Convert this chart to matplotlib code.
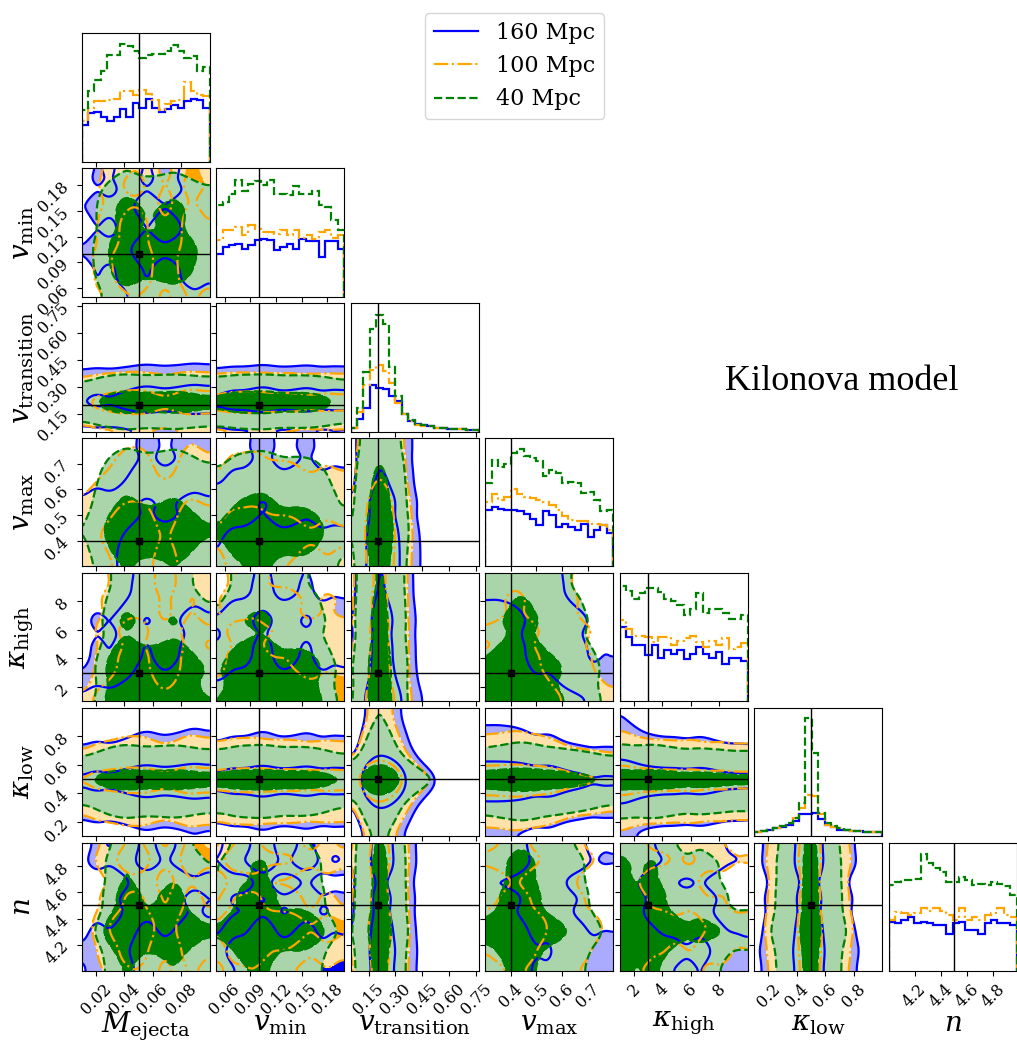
import numpy as np
import matplotlib.pyplot as plt
import matplotlib.colors as mcolors
from matplotlib.lines import Line2D

plt.rcParams["font.family"] = ["DejaVu Serif"]
plt.rcParams["mathtext.fontset"] = "dejavuserif"

labels = [r"$M_{\rm ejecta}$", r"$v_{\rm min}$", r"$v_{\rm transition}$", r"$v_{\rm max}$",
          r"$\kappa_{\rm high}$", r"$\kappa_{\rm low}$", r"$n$"]
ranges = [(0.01, 0.1), (0.05, 0.2), (0.05, 0.765), (0.3, 0.8), (1.0, 10.0), (0.1, 1.0), (4.0, 4.98)]
truths = [0.05, 0.1, 0.2, 0.4, 3.0, 0.5, 4.5]
ticks = [[0.02, 0.04, 0.06, 0.08], [0.06, 0.09, 0.12, 0.15, 0.18], [0.15, 0.30, 0.45, 0.60, 0.75],
         [0.4, 0.5, 0.6, 0.7], [2, 4, 6, 8], [0.2, 0.4, 0.6, 0.8], [4.2, 4.4, 4.6, 4.8]]
tick_labels = [["0.02", "0.04", "0.06", "0.08"], ["0.06", "0.09", "0.12", "0.15", "0.18"],
               ["0.15", "0.30", "0.45", "0.60", "0.75"], ["0.4", "0.5", "0.6", "0.7"],
               ["2", "4", "6", "8"], ["0.2", "0.4", "0.6", "0.8"], ["4.2", "4.4", "4.6", "4.8"]]

series_names = ["160 Mpc", "100 Mpc", "40 Mpc"]
series_colors = ["blue", "orange", "green"]
series_styles = ["solid", "dashdot", "dashed"]

# marginal posteriors, 20 bins over each parameter range (relative heights)
m_ejecta_160 = [0.29, 0.38, 0.39, 0.35, 0.32, 0.35, 0.41, 0.35, 0.46, 0.42, 0.49, 0.42, 0.39, 0.41, 0.44, 0.42, 0.47, 0.49, 0.48, 0.42]
m_ejecta_100 = [0.32, 0.42, 0.47, 0.47, 0.48, 0.49, 0.55, 0.55, 0.52, 0.56, 0.53, 0.48, 0.40, 0.45, 0.47, 0.48, 0.62, 0.55, 0.52, 0.51]
m_ejecta_40 = [0.40, 0.55, 0.64, 0.71, 0.83, 0.83, 0.92, 0.90, 0.86, 0.81, 0.83, 0.84, 0.84, 0.86, 0.91, 0.86, 0.81, 0.82, 0.71, 0.74]

v_min_160 = [0.33, 0.39, 0.40, 0.41, 0.37, 0.40, 0.44, 0.45, 0.44, 0.36, 0.39, 0.41, 0.37, 0.45, 0.43, 0.43, 0.31, 0.43, 0.43, 0.37]
v_min_100 = [0.44, 0.52, 0.52, 0.54, 0.48, 0.56, 0.53, 0.50, 0.50, 0.49, 0.52, 0.48, 0.52, 0.46, 0.48, 0.45, 0.50, 0.52, 0.46, 0.48]
v_min_40 = [0.71, 0.74, 0.80, 0.91, 0.82, 0.88, 0.90, 0.87, 0.91, 0.80, 0.80, 0.79, 0.86, 0.80, 0.80, 0.82, 0.71, 0.70, 0.60, 0.52]

v_trans_160 = [0.03, 0.10, 0.18, 0.36, 0.34, 0.33, 0.28, 0.24, 0.14, 0.08, 0.06, 0.05, 0.04, 0.03, 0.03, 0.02, 0.02, 0.02, 0.01, 0.01]
v_trans_100 = [0.03, 0.15, 0.36, 0.48, 0.52, 0.47, 0.38, 0.22, 0.14, 0.08, 0.05, 0.04, 0.04, 0.03, 0.03, 0.02, 0.02, 0.02, 0.01, 0.01]
v_trans_40 = [0.03, 0.18, 0.46, 0.80, 0.91, 0.84, 0.50, 0.28, 0.14, 0.09, 0.06, 0.05, 0.04, 0.03, 0.03, 0.02, 0.02, 0.02, 0.01, 0.01]

v_max_160 = [0.44, 0.46, 0.45, 0.44, 0.44, 0.43, 0.41, 0.37, 0.32, 0.43, 0.40, 0.31, 0.33, 0.31, 0.28, 0.33, 0.23, 0.28, 0.32, 0.26]
v_max_100 = [0.50, 0.56, 0.52, 0.54, 0.60, 0.56, 0.54, 0.53, 0.52, 0.50, 0.48, 0.44, 0.39, 0.36, 0.35, 0.35, 0.33, 0.33, 0.32, 0.28]
v_max_40 = [0.65, 0.83, 0.77, 0.80, 0.88, 0.91, 0.86, 0.84, 0.82, 0.70, 0.75, 0.73, 0.65, 0.66, 0.65, 0.57, 0.58, 0.52, 0.43, 0.44]

k_high_160 = [0.58, 0.50, 0.44, 0.44, 0.36, 0.44, 0.34, 0.40, 0.37, 0.40, 0.33, 0.37, 0.42, 0.37, 0.34, 0.38, 0.29, 0.34, 0.34, 0.31]
k_high_100 = [0.63, 0.56, 0.51, 0.51, 0.50, 0.46, 0.50, 0.50, 0.44, 0.47, 0.49, 0.51, 0.46, 0.42, 0.47, 0.44, 0.49, 0.41, 0.42, 0.45]
k_high_40 = [0.90, 0.86, 0.80, 0.84, 0.88, 0.88, 0.85, 0.80, 0.78, 0.75, 0.67, 0.72, 0.84, 0.69, 0.72, 0.72, 0.69, 0.64, 0.64, 0.67]

k_low_160 = [0.03, 0.04, 0.05, 0.06, 0.07, 0.09, 0.12, 0.17, 0.17, 0.18, 0.13, 0.09, 0.07, 0.05, 0.05, 0.04, 0.04, 0.03, 0.03, 0.03]
k_low_100 = [0.03, 0.04, 0.05, 0.06, 0.08, 0.10, 0.14, 0.22, 0.32, 0.31, 0.17, 0.09, 0.07, 0.06, 0.05, 0.04, 0.04, 0.03, 0.03, 0.03]
k_low_40 = [0.03, 0.04, 0.05, 0.06, 0.08, 0.10, 0.14, 0.26, 0.92, 0.65, 0.18, 0.10, 0.08, 0.06, 0.05, 0.04, 0.04, 0.03, 0.03, 0.03]

n_160 = [0.38, 0.37, 0.40, 0.42, 0.37, 0.38, 0.37, 0.36, 0.36, 0.29, 0.37, 0.38, 0.32, 0.32, 0.29, 0.37, 0.40, 0.37, 0.37, 0.36]
n_100 = [0.40, 0.46, 0.45, 0.44, 0.45, 0.49, 0.47, 0.49, 0.47, 0.44, 0.40, 0.49, 0.40, 0.42, 0.40, 0.44, 0.45, 0.49, 0.44, 0.42]
n_40 = [0.67, 0.69, 0.71, 0.71, 0.72, 0.91, 0.84, 0.80, 0.77, 0.69, 0.69, 0.73, 0.71, 0.67, 0.68, 0.67, 0.69, 0.68, 0.66, 0.59]

hists = [
    [m_ejecta_160, v_min_160, v_trans_160, v_max_160, k_high_160, k_low_160, n_160],
    [m_ejecta_100, v_min_100, v_trans_100, v_max_100, k_high_100, k_low_100, n_100],
    [m_ejecta_40, v_min_40, v_trans_40, v_max_40, k_high_40, k_low_40, n_40],
]

FINE = 4          # sub-cells per histogram bin
SMOOTH = 1.3      # gaussian smoothing, in bins
MASS = (1 - np.exp(-2.0), 1 - np.exp(-0.5))   # 2-sigma / 1-sigma regions


def smooth(p, sigma):
    r = int(np.ceil(3 * sigma))
    k = np.exp(-0.5 * (np.arange(-r, r + 1) / sigma) ** 2)
    k /= k.sum()
    return np.convolve(np.pad(p, r, mode="reflect"), k, mode="valid")


def profile(h):
    return smooth(np.repeat(np.asarray(h, float), FINE), SMOOTH * FINE)


def thresholds(D):
    flat = np.sort(D.ravel())[::-1]
    cum = np.cumsum(flat) / flat.sum()
    return [flat[min(np.searchsorted(cum, m), flat.size - 1)] for m in MASS]


def lighten(c, f=1 / 3):
    rgb = np.array(mcolors.to_rgb(c))
    return tuple(1 - f * (1 - rgb))


ndim = len(labels)
fig, axes = plt.subplots(ndim, ndim, figsize=(10.17, 10.44), dpi=100)
fig.subplots_adjust(left=0.0803, right=0.9997, bottom=0.0699, top=0.9681, wspace=0.05, hspace=0.05)

profiles = [[profile(h) for h in hs] for hs in hists]

for i in range(ndim):
    for j in range(ndim):
        ax = axes[i, j]
        if j > i:
            ax.set_axis_off()
            continue
        xlo, xhi = ranges[j]
        if i == j:
            edges = np.linspace(xlo, xhi, len(hists[0][i]) + 1)
            for s in range(3):
                ax.stairs(hists[s][i], edges, baseline=0, color=series_colors[s],
                          linestyle=series_styles[s], lw=1.6)
            ax.set_ylim(0, 1)
            ax.set_yticks([])
            ax.axvline(truths[i], color="k", lw=1)
        else:
            X = np.linspace(xlo, xhi, len(profiles[0][j]))
            Y = np.linspace(ranges[i][0], ranges[i][1], len(profiles[0][i]))
            for s in range(3):
                D = np.outer(profiles[s][i], profiles[s][j])
                lo, hi = thresholds(D)
                c = series_colors[s]
                ax.contourf(X, Y, D, levels=[lo, hi, D.max() * 1.001], colors=[lighten(c), c])
                ax.contour(X, Y, D, levels=[lo, hi], colors=c, linestyles=series_styles[s],
                           linewidths=1.6)
            ax.axvline(truths[j], color="k", lw=1)
            ax.axhline(truths[i], color="k", lw=1)
            ax.plot(truths[j], truths[i], "s", color="k", ms=5)
            ax.set_ylim(ranges[i])
            ax.set_yticks(ticks[i])
            if j == 0:
                ax.set_yticklabels(tick_labels[i], rotation=45, fontsize=11.5)
                ax.set_ylabel(labels[i], fontsize=20)
                ax.yaxis.set_label_coords(-0.36, 0.5)
            else:
                ax.set_yticklabels([])
        ax.set_xlim(xlo, xhi)
        ax.set_xticks(ticks[j])
        if i == ndim - 1:
            ax.set_xticklabels(tick_labels[j], rotation=45, fontsize=11.5)
            ax.set_xlabel(labels[j], fontsize=20)
            ax.xaxis.set_label_coords(0.5, -0.30)
        else:
            ax.set_xticklabels([])

handles = [Line2D([], [], color=c, linestyle=ls, lw=1.6)
           for c, ls in zip(series_colors, series_styles)]
fig.legend(handles, series_names, loc="upper center", bbox_to_anchor=(0.506, 0.998), fontsize=16)

fig.text(0.828, 0.635, "Kilonova model", fontsize=26, family="Liberation Serif",
         ha="center", va="center")

fig.savefig("out.png", dpi=100)
